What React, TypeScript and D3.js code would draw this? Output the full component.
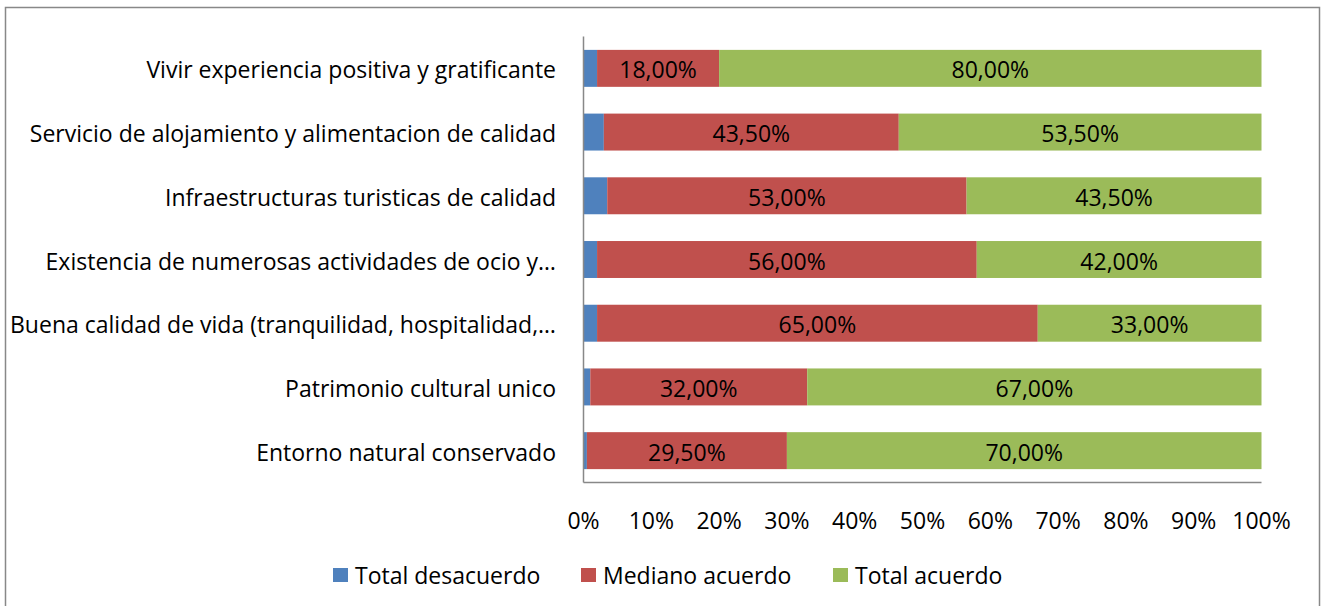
import React, { useEffect, useRef } from 'react';
import * as d3 from 'd3';

const categories = [
  'Vivir experiencia positiva y gratificante',
  'Servicio de alojamiento y alimentacion de calidad',
  'Infraestructuras turisticas de calidad',
  'Existencia de numerosas actividades de ocio y…',
  'Buena calidad de vida (tranquilidad, hospitalidad,…',
  'Patrimonio cultural unico',
  'Entorno natural conservado',
];
const totalDesacuerdo = [2, 3, 3.5, 2, 2, 1, 0.5];
const medianoAcuerdo = [18, 43.5, 53, 56, 65, 32, 29.5];
const totalAcuerdo = [80, 53.5, 43.5, 42, 33, 67, 70];
const seriesNames = ['Total desacuerdo', 'Mediano acuerdo', 'Total acuerdo'];
const seriesColors = ['#4f81bd', '#c0504d', '#9bbb59'];
const xTicks = [0, 10, 20, 30, 40, 50, 60, 70, 80, 90, 100];

const W = 1328;
const H = 606;
const FONT = '"Open Sans", Lato, sans-serif';
const FS = '23px';

const App = () => {
  const ref = useRef<SVGSVGElement>(null);

  useEffect(() => {
    const svg = d3.select(ref.current);
    svg.selectAll('*').remove();

    const rows = categories.map((c, i) => ({
      cat: c,
      vals: [totalDesacuerdo[i], medianoAcuerdo[i], totalAcuerdo[i]],
    }));

    const x = d3.scaleLinear().domain([0, 100]).range([583.5, 1261.5]);
    const y = d3.scaleBand().domain(categories).range([36.5, 482.5]).paddingInner(0.42).paddingOuter(0.21);

    // outer frame
    svg.append('rect')
      .attr('x', 5.5).attr('y', 7.5)
      .attr('width', 1314).attr('height', 610)
      .attr('fill', '#fff').attr('stroke', '#888').attr('stroke-width', 1.5);

    const g = svg.append('g');

    rows.forEach(r => {
      let acc = 0;
      r.vals.forEach((v, k) => {
        const x0 = x(acc);
        const x1 = x(acc + v);
        g.append('rect')
          .attr('x', x0).attr('y', y(r.cat)!)
          .attr('width', x1 - x0).attr('height', y.bandwidth())
          .attr('fill', seriesColors[k]);
        if (k > 0) {
          g.append('text')
            .attr('x', (x0 + x1) / 2)
            .attr('y', y(r.cat)! + y.bandwidth() / 2 + 1)
            .attr('text-anchor', 'middle')
            .attr('dominant-baseline', 'central')
            .style('font-family', FONT).style('font-size', FS).attr('fill', '#000')
            .text(d3.format('.2f')(v).replace('.', ',') + '%');
        }
        acc += v;
      });
    });

    // axes lines
    g.append('line').attr('x1', x(0)).attr('x2', x(0)).attr('y1', 36.5).attr('y2', 482.5)
      .attr('stroke', '#888').attr('stroke-width', 1.5);
    g.append('line').attr('x1', x(0)).attr('x2', x(100)).attr('y1', 482.5).attr('y2', 482.5)
      .attr('stroke', '#888').attr('stroke-width', 1.5);

    // category labels
    categories.forEach(c => {
      g.append('text')
        .attr('x', 556).attr('y', y(c)! + y.bandwidth() / 2 + 1)
        .attr('text-anchor', 'end').attr('dominant-baseline', 'central')
        .style('font-family', FONT).style('font-size', FS).attr('fill', '#000')
        .text(c);
    });

    // x tick labels
    xTicks.forEach(t => {
      g.append('text')
        .attr('x', x(t)).attr('y', 520)
        .attr('text-anchor', 'middle').attr('dominant-baseline', 'central')
        .style('font-family', FONT).style('font-size', FS).attr('fill', '#000')
        .text(t + '%');
    });

    // legend
    const legendX = [333, 581, 833];
    seriesNames.forEach((s, k) => {
      g.append('rect').attr('x', legendX[k]).attr('y', 568).attr('width', 15).attr('height', 14)
        .attr('fill', seriesColors[k]);
      g.append('text')
        .attr('x', legendX[k] + 22).attr('y', 575)
        .attr('dominant-baseline', 'central')
        .style('font-family', FONT).style('font-size', FS).attr('fill', '#000')
        .text(s);
    });
  }, []);

  return (
    <div style={{ position: 'absolute', left: 0, top: 0 }}>
      <svg ref={ref} width={W} height={H} style={{ display: 'block' }} />
    </div>
  );
};

export default App;
